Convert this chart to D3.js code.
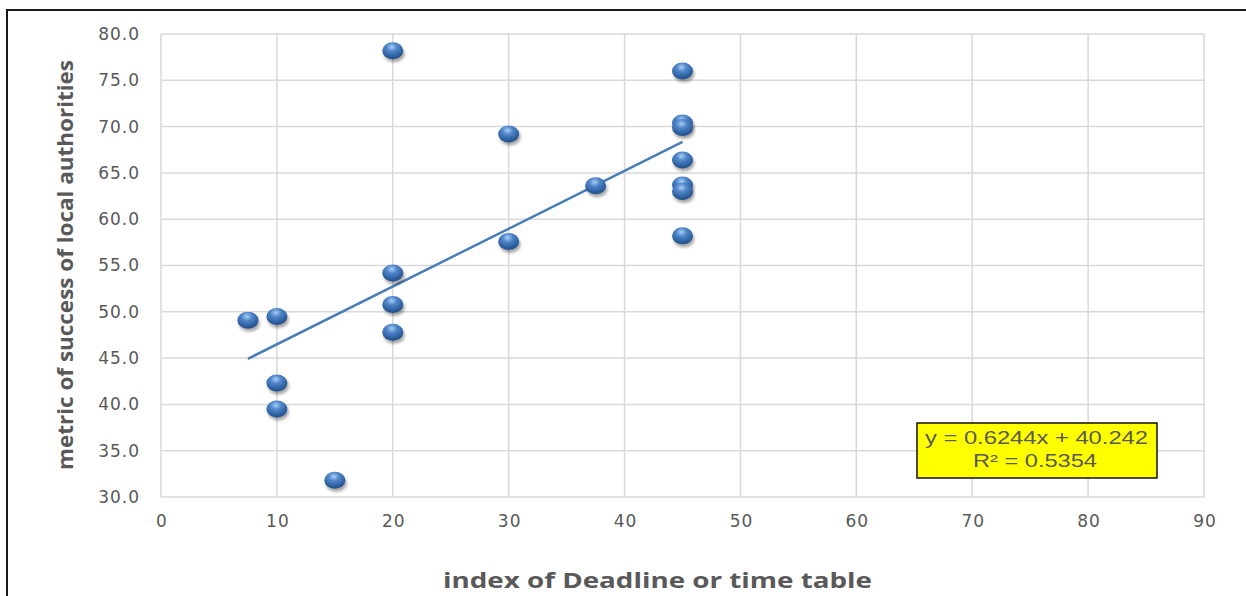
<!DOCTYPE html>
<html><head><meta charset="utf-8">
<script src="https://cdn.jsdelivr.net/npm/d3@7"></script>
<style>body{margin:0;background:#fff;}svg{display:block;}</style>
</head><body>
<svg id="c" width="1246" height="596"></svg>
<script>
const xValues = [7.5, 10, 10, 10, 15, 20, 20, 20, 20, 30, 30, 37.5, 45, 45, 45, 45, 45, 45, 45];
const yValues = [49.1, 49.5, 42.3, 39.5, 31.8, 78.2, 54.2, 50.8, 47.8, 69.2, 57.6, 63.6, 76.0, 70.4, 69.9, 66.4, 63.7, 63.0, 58.2];
const xTicks = [0, 10, 20, 30, 40, 50, 60, 70, 80, 90];
const yTicks = [30, 35, 40, 45, 50, 55, 60, 65, 70, 75, 80];
const trendSlope = 0.6244, trendIntercept = 40.242, rSquared = 0.5354;
const xTitle = "index of Deadline or time table";
const yTitle = "metric of success of local authorities";

const svg = d3.select("#c");
const defs = svg.append("defs");
const g1 = defs.append("radialGradient").attr("id","ball").attr("cx","45%").attr("cy","28%").attr("r","72%");
g1.append("stop").attr("offset","0%").attr("stop-color","#a9cdf5");
g1.append("stop").attr("offset","35%").attr("stop-color","#4f86c9");
g1.append("stop").attr("offset","100%").attr("stop-color","#1d4c8a");
const f = defs.append("filter").attr("id","sh").attr("x","-50%").attr("y","-50%").attr("width","200%").attr("height","200%");
f.append("feGaussianBlur").attr("stdDeviation",1.6);

// frame
svg.append("rect").attr("x",7).attr("y",10).attr("width",1260).attr("height",620)
  .attr("fill","none").attr("stroke","#1a1a1a").attr("stroke-width",2);

const x = d3.scaleLinear().domain([0,90]).range([161,1204]);
const y = d3.scaleLinear().domain([30,80]).range([497,34]);

const grid = svg.append("g");
grid.selectAll("line.v").data(xTicks).join("line")
  .attr("x1",d=>x(d)).attr("x2",d=>x(d)).attr("y1",y(80)).attr("y2",y(30))
  .attr("stroke","#d9d9d9").attr("stroke-width",1.5);
grid.selectAll("line.h").data(yTicks).join("line")
  .attr("x1",x(0)).attr("x2",x(90)).attr("y1",d=>y(d)).attr("y2",d=>y(d))
  .attr("stroke","#d9d9d9").attr("stroke-width",1.5);

const tickFont = "'DejaVu Sans', sans-serif";
const titleFont = "'Open Sans', 'DejaVu Sans', sans-serif";
const yAxis = svg.append("g").attr("transform",`translate(${x(0)-9},0)`)
  .call(d3.axisLeft(y).tickValues(yTicks).tickFormat(d3.format(".1f")).tickSize(0).tickPadding(12));
yAxis.select(".domain").remove();
yAxis.selectAll("text").attr("font-family",tickFont).attr("font-size",17).attr("letter-spacing",1).attr("fill","#595959");

const xAxis = svg.append("g").attr("transform",`translate(0,${y(30)+14})`)
  .call(d3.axisBottom(x).tickValues(xTicks).tickFormat(d3.format("d")).tickSize(0).tickPadding(4));
xAxis.select(".domain").remove();
xAxis.selectAll("text").attr("font-family",tickFont).attr("font-size",17).attr("letter-spacing",1).attr("dx","0.5").attr("fill","#595959");

// trendline
const x0 = d3.min(xValues), x1 = d3.max(xValues);
svg.append("line").attr("x1",x(x0)).attr("y1",y(trendSlope*x0+trendIntercept))
  .attr("x2",x(x1)).attr("y2",y(trendSlope*x1+trendIntercept))
  .attr("stroke","#4a7ebb").attr("stroke-width",2.5);

const pts = xValues.map((v,i)=>({x:v,y:yValues[i]}));
const pg = svg.append("g");
pg.selectAll("ellipse.s").data(pts).join("ellipse").attr("class","s")
  .attr("cx",d=>x(d.x)+1.5).attr("cy",d=>y(d.y)+3).attr("rx",10.5).attr("ry",8.5)
  .attr("fill","#000").attr("opacity",0.35).attr("filter","url(#sh)");
pg.selectAll("ellipse.b").data(pts).join("ellipse").attr("class","b")
  .attr("cx",d=>x(d.x)).attr("cy",d=>y(d.y)).attr("rx",10.5).attr("ry",8.5)
  .attr("fill","url(#ball)");

// equation box
svg.append("rect").attr("x",917).attr("y",423).attr("width",240).attr("height",55)
  .attr("fill","#ffff00").attr("stroke","#111").attr("stroke-width",1.5);
const eqFont = "'Liberation Sans', Arial, sans-serif";
svg.append("text").attr("x",1036.5).attr("y",444).attr("text-anchor","middle")
  .attr("font-family",eqFont).attr("font-size",18).attr("fill","#595959")
  .attr("textLength",223).attr("lengthAdjust","spacingAndGlyphs")
  .text(`y = ${trendSlope}x + ${trendIntercept}`);
svg.append("text").attr("x",1035).attr("y",467).attr("text-anchor","middle")
  .attr("font-family",eqFont).attr("font-size",18).attr("fill","#595959")
  .attr("textLength",124).attr("lengthAdjust","spacingAndGlyphs")
  .text(`R² = ${rSquared}`);

svg.append("text").attr("x",657.5).attr("y",588).attr("text-anchor","middle")
  .attr("font-family",titleFont).attr("font-weight","bold").attr("font-size",22).attr("fill","#595959")
  .attr("textLength",429).attr("lengthAdjust","spacingAndGlyphs").text(xTitle);
svg.append("text").attr("transform",`translate(73,265) rotate(-90)`).attr("text-anchor","middle")
  .attr("font-family",titleFont).attr("font-weight","bold").attr("font-size",22).attr("fill","#595959")
  .attr("textLength",410).attr("lengthAdjust","spacingAndGlyphs").text(yTitle);
</script>
</body></html>
